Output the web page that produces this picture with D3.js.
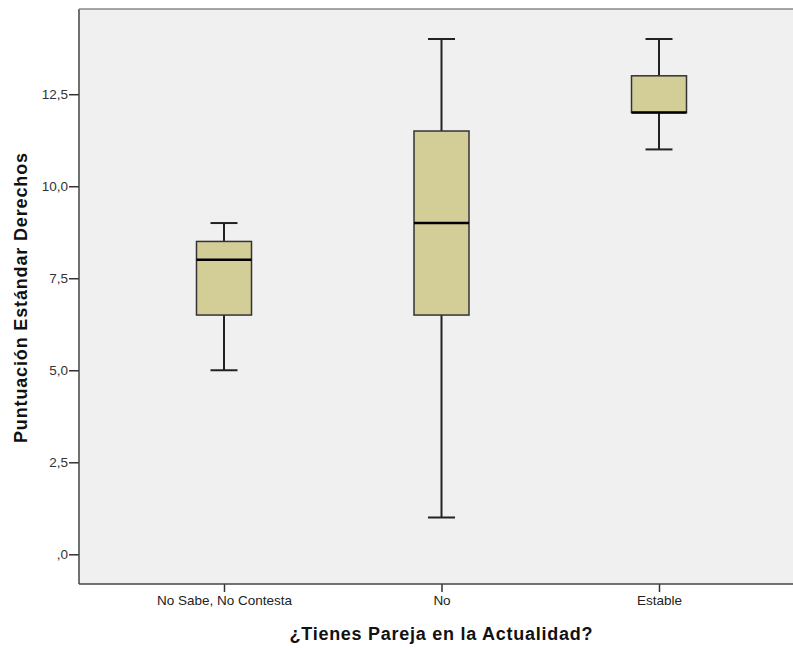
<!DOCTYPE html>
<html><head><meta charset="utf-8">
<script src="https://cdn.jsdelivr.net/npm/d3@7"></script>
<style>body{margin:0;background:#fff}svg{display:block}text{font-family:Arial,"Liberation Sans",sans-serif}</style>
</head><body>
<svg id="c" width="793" height="648"></svg>
<script>
const categories = ["No Sabe, No Contesta", "No", "Estable"];
const mins    = [5, 1, 11];
const q1s     = [6.5, 6.5, 12];
const medians = [8, 9, 12];
const q3s     = [8.5, 11.5, 13];
const maxs    = [9, 14, 14];
const yTicks  = [0, 2.5, 5, 7.5, 10, 12.5];

const data = categories.map((c,i)=>({c,min:mins[i],q1:q1s[i],med:medians[i],q3:q3s[i],max:maxs[i]}));
const svg = d3.select("#c");
const L=79, T=9, R=794, B=584;
const y = d3.scaleLinear().domain([0,14]).range([554.3, 39]);
const x = d3.scalePoint().domain(categories).range([224, 659]);

svg.append("rect").attr("x",L).attr("y",T).attr("width",R-L).attr("height",B-T).attr("fill","#f0f0f0");

const fmt = v => { let s = d3.format(".1f")(v).replace(".", ","); return s.startsWith("0,")? s.slice(1): s; };

const ya = svg.append("g").attr("transform",`translate(${L},0)`)
  .call(d3.axisLeft(y).tickValues(yTicks).tickFormat(fmt).tickSize(10).tickPadding(1));
ya.select(".domain").remove();
ya.selectAll("line").attr("stroke","#333").attr("stroke-width",1.5);
ya.selectAll("text").attr("font-size",13.5).attr("fill","#333").attr("font-family","Arial, 'Liberation Sans', sans-serif");

const xa = svg.append("g").attr("transform",`translate(0,${B})`)
  .call(d3.axisBottom(x).tickSize(8).tickPadding(3));
xa.select(".domain").remove();
xa.selectAll("line").attr("stroke","#333").attr("stroke-width",1.5);
xa.selectAll("text").attr("font-size",13.5).attr("fill","#222").attr("font-family","Arial, 'Liberation Sans', sans-serif");

// frame lines
svg.append("line").attr("x1",L).attr("x2",L).attr("y1",T).attr("y2",B).attr("stroke","#444").attr("stroke-width",1.5);
svg.append("line").attr("x1",L).attr("x2",R).attr("y1",B).attr("y2",B).attr("stroke","#444").attr("stroke-width",1.5);
svg.append("line").attr("x1",L).attr("x2",R).attr("y1",T).attr("y2",T).attr("stroke","#888").attr("stroke-width",1.5);

const bw = 55, cw = 27;
const g = svg.selectAll(".box").data(data).join("g").attr("transform",d=>`translate(${x(d.c)},0)`);
g.append("line").attr("y1",d=>y(d.max)).attr("y2",d=>y(d.q3)).attr("stroke","#222").attr("stroke-width",2);
g.append("line").attr("y1",d=>y(d.q1)).attr("y2",d=>y(d.min)).attr("stroke","#222").attr("stroke-width",2);
g.append("line").attr("x1",-cw/2).attr("x2",cw/2).attr("y1",d=>y(d.max)).attr("y2",d=>y(d.max)).attr("stroke","#222").attr("stroke-width",2);
g.append("line").attr("x1",-cw/2).attr("x2",cw/2).attr("y1",d=>y(d.min)).attr("y2",d=>y(d.min)).attr("stroke","#222").attr("stroke-width",2);
g.append("rect").attr("x",-bw/2).attr("width",bw).attr("y",d=>y(d.q3)).attr("height",d=>y(d.q1)-y(d.q3))
  .attr("fill","#d3ce97").attr("stroke","#333").attr("stroke-width",1.5);
g.append("line").attr("x1",-bw/2).attr("x2",bw/2).attr("y1",d=>y(d.med)).attr("y2",d=>y(d.med)).attr("stroke","#000").attr("stroke-width",2.5);

svg.append("text").attr("x",441).attr("y",640).attr("text-anchor","middle")
  .attr("font-size",18).attr("font-weight","bold").attr("fill","#111")
  .attr("textLength",303).attr("lengthAdjust","spacing")
  .text("¿Tienes Pareja en la Actualidad?");
svg.append("text").attr("transform","translate(27,298) rotate(-90)").attr("text-anchor","middle")
  .attr("font-size",18).attr("font-weight","bold").attr("fill","#111")
  .attr("textLength",290).attr("lengthAdjust","spacing")
  .text("Puntuación Estándar Derechos");
</script>
</body></html>
